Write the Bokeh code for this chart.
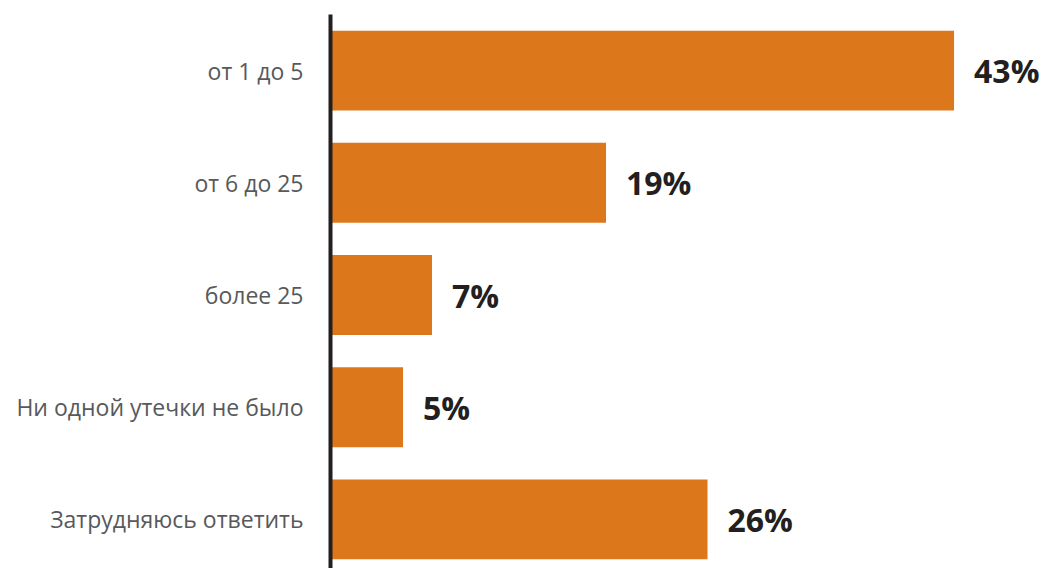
from bokeh.plotting import figure
from bokeh.models import Range1d, FixedTicker, ColumnDataSource
from bokeh.core.properties import value
from bokeh.embed import file_html
from bokeh.resources import INLINE

categories = ["от 1 до 5", "от 6 до 25", "более 25", "Ни одной утечки не было", "Затрудняюсь ответить"]
values = [43, 19, 7, 5, 26]
value_labels = ["43%", "19%", "7%", "5%", "26%"]

pos = list(range(len(categories)))
src = ColumnDataSource(dict(y=pos, v=values, lab=value_labels))

p = figure(width=1042, height=568, output_backend="svg", toolbar_location=None,
           x_range=Range1d(0, 49.1), y_range=Range1d(4.4376, -0.5),
           min_border_left=330, min_border_right=0, min_border_top=14, min_border_bottom=0)
p.outline_line_color = None
p.background_fill_color = "white"
p.grid.visible = False
p.xaxis.visible = False

p.hbar(y="y", left=0, right="v", height=0.712, source=src, color="#DD771C", line_color=None)
p.text(x="v", y="y", text="lab", source=src, x_offset=20, text_baseline="middle", text_align="left",
       text_font=value("Open Sans"), text_font_style="bold", text_font_size="32px", text_color="#231F20")

ya = p.yaxis[0]
ya.ticker = FixedTicker(ticks=pos)
ya.major_label_overrides = {i: c for i, c in zip(pos, categories)}
ya.major_tick_line_color = None
ya.minor_tick_line_color = None
ya.axis_line_color = "#231F20"
ya.axis_line_width = 4
ya.major_label_standoff = 21
ya.major_label_text_font = "Open Sans"
ya.major_label_text_font_size = "23px"
ya.major_label_text_color = "#58595B"

open("out.html", "w").write(file_html(p, INLINE))
